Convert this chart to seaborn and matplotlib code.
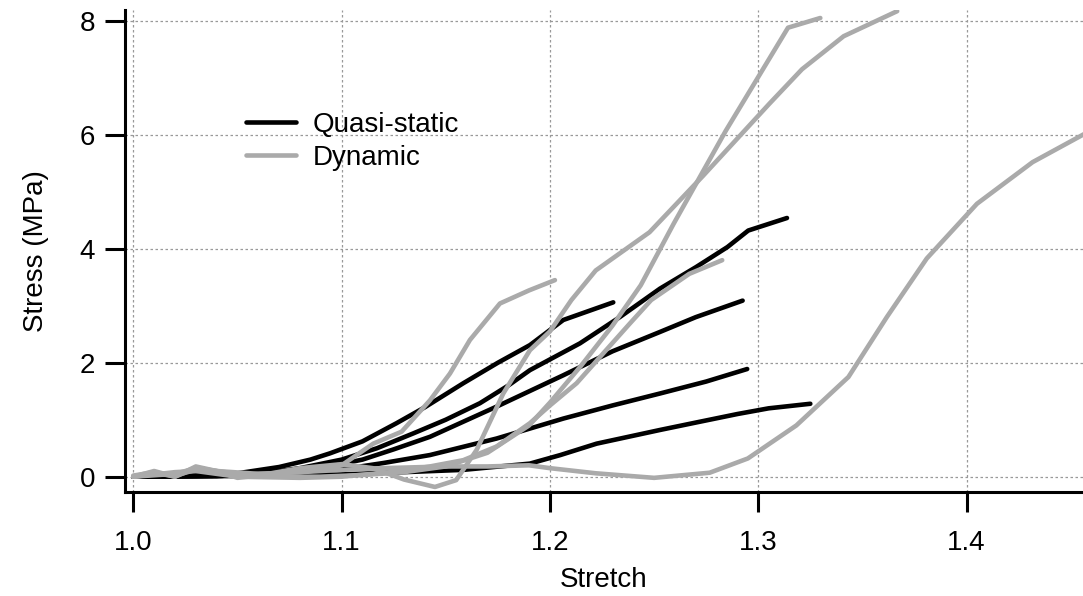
import matplotlib
matplotlib.use('Agg')
import matplotlib.pyplot as plt
import pandas as pd
import seaborn as sns


# Quasi-static tests (stretch, stress in MPa)
qs_a_x = [1.0, 1.03, 1.05, 1.07, 1.085, 1.0944, 1.11, 1.1264, 1.14, 1.1584, 1.175, 1.1904, 1.2064, 1.218, 1.2304]
qs_a_y = [0.0, 0.02, 0.06, 0.17, 0.3, 0.41, 0.62, 0.94, 1.22, 1.64, 2.0, 2.31, 2.75, 2.9, 3.06]

qs_e_x = [1.0, 1.04, 1.06, 1.08, 1.1, 1.117, 1.1344, 1.15, 1.1664, 1.18, 1.1904, 1.2144, 1.2335, 1.2528,
          1.2702, 1.2852, 1.2952, 1.3138]
qs_e_y = [0.0, 0.01, 0.05, 0.15, 0.3, 0.5, 0.76, 1.0, 1.29, 1.6, 1.87, 2.34, 2.8, 3.3,
          3.68, 4.03, 4.32, 4.54]

qs_b_x = [1.0, 1.05, 1.07, 1.09, 1.11, 1.125, 1.1424, 1.1744, 1.2064, 1.23, 1.2528, 1.27, 1.2925]
qs_b_y = [0.0, 0.02, 0.07, 0.15, 0.3, 0.48, 0.7, 1.23, 1.78, 2.2, 2.54, 2.8, 3.09]

qs_c_x = [1.0, 1.06, 1.08, 1.1, 1.12, 1.1424, 1.1744, 1.2064, 1.23, 1.2528, 1.275, 1.2947]
qs_c_y = [0.0, 0.03, 0.07, 0.13, 0.24, 0.38, 0.67, 1.02, 1.25, 1.46, 1.67, 1.89]

qs_d_x = [1.0, 1.08, 1.1, 1.13, 1.1584, 1.1904, 1.205, 1.2224, 1.2528, 1.27, 1.29, 1.305, 1.325]
qs_d_y = [0.0, 0.02, 0.04, 0.08, 0.12, 0.23, 0.38, 0.58, 0.82, 0.95, 1.1, 1.2, 1.28]

# Dynamic tests
dyn_1_x = [1.0, 1.01, 1.02, 1.03, 1.04, 1.05, 1.06, 1.07, 1.08, 1.09, 1.1, 1.1152, 1.1288, 1.1424,
           1.152, 1.1616, 1.176, 1.19, 1.2024]
dyn_1_y = [0.0, 0.05, 0.02, 0.12, 0.08, 0.03, 0.05, 0.06, 0.08, 0.12, 0.2, 0.58, 0.79, 1.34,
           1.81, 2.4, 3.04, 3.27, 3.45]

dyn_2_x = [1.0, 1.01, 1.02, 1.03, 1.04, 1.05, 1.06, 1.08, 1.1, 1.115, 1.13, 1.1448, 1.155, 1.1648,
           1.1776, 1.1904, 1.2, 1.2103, 1.222, 1.2478, 1.2735, 1.3052, 1.321, 1.341, 1.3667]
dyn_2_y = [0.02, 0.08, 0.0, 0.18, 0.1, -0.02, 0.02, 0.15, 0.22, 0.15, -0.05, -0.18, -0.06, 0.47,
           1.46, 2.22, 2.55, 3.1, 3.62, 4.29, 5.28, 6.54, 7.15, 7.73, 8.17]

dyn_3_x = [1.0, 1.02, 1.03, 1.05, 1.07, 1.09, 1.11, 1.13, 1.15, 1.17, 1.19, 1.2, 1.215, 1.23,
           1.2436, 1.2594, 1.2844, 1.3143, 1.3298]
dyn_3_y = [0.0, 0.05, 0.15, 0.05, 0.0, 0.0, 0.03, 0.08, 0.18, 0.42, 0.9, 1.3, 1.95, 2.65,
           3.36, 4.44, 6.07, 7.88, 8.05]

dyn_4_x = [1.0, 1.02, 1.03, 1.05, 1.08, 1.1, 1.1264, 1.1424, 1.1584, 1.1744, 1.1904, 1.2, 1.2128,
           1.2384, 1.2486, 1.2669, 1.2827]
dyn_4_y = [0.0, 0.08, 0.1, 0.0, -0.02, 0.0, 0.09, 0.18, 0.29, 0.53, 0.94, 1.25, 1.64,
           2.69, 3.1, 3.56, 3.8]

dyn_5_x = [1.0, 1.01, 1.02, 1.03, 1.04, 1.06, 1.08, 1.1, 1.12, 1.15, 1.17, 1.19, 1.2, 1.222, 1.25,
           1.2767, 1.295, 1.3183, 1.3433, 1.3617, 1.3809, 1.405, 1.4317, 1.4563]
dyn_5_y = [0.0, 0.1, 0.0, 0.15, 0.1, 0.05, 0.08, 0.12, 0.15, 0.18, 0.18, 0.2, 0.15, 0.06, -0.02,
           0.07, 0.32, 0.9, 1.75, 2.8, 3.83, 4.79, 5.52, 6.01]

quasi_static = [(qs_a_x, qs_a_y), (qs_e_x, qs_e_y), (qs_b_x, qs_b_y), (qs_c_x, qs_c_y), (qs_d_x, qs_d_y)]
dynamic = [(dyn_1_x, dyn_1_y), (dyn_2_x, dyn_2_y), (dyn_3_x, dyn_3_y), (dyn_4_x, dyn_4_y), (dyn_5_x, dyn_5_y)]


# Build one long table for seaborn
def build_frame():
    rows = []
    for cond, tests in [('Quasi-static', quasi_static), ('Dynamic', dynamic)]:
        for i, (xs, ys) in enumerate(tests):
            for k, (x, y) in enumerate(zip(xs, ys)):
                rows.append({'Condition': cond, 'Test': f'{cond}-{i}', 'Order': k,
                             'Stretch': x, 'Stress': y})
    return pd.DataFrame(rows)


def main():
    df = build_frame()

    sns.set_style('ticks')
    plt.rcParams['font.family'] = ['Liberation Sans', 'DejaVu Sans']
    plt.rcParams['font.size'] = 20
    plt.rcParams['text.color'] = 'black'
    plt.rcParams['axes.labelcolor'] = 'black'

    fig = plt.figure(figsize=(10.83, 5.96), dpi=100)
    ax = fig.add_axes([0.1154, 0.1753, 0.8846, 0.8079])

    sns.lineplot(data=df, x='Stretch', y='Stress', hue='Condition', units='Test',
                 estimator=None, sort=False, ax=ax,
                 palette={'Quasi-static': 'black', 'Dynamic': '#aaaaaa'},
                 linewidth=3.3, solid_capstyle='round')

    ax.set_xlim(0.996, 1.4559)
    ax.set_ylim(-0.26, 8.19)
    ax.set_xticks([1.0, 1.1, 1.2, 1.3, 1.4])
    ax.set_xticklabels(['1.0', '1.1', '1.2', '1.3', '1.4'])
    ax.set_yticks([0, 2, 4, 6, 8])

    ax.grid(True, color='#999999', linestyle=(0, (2, 2)), linewidth=0.9)
    ax.set_axisbelow(True)

    sns.despine(ax=ax)
    for side in ['left', 'bottom']:
        ax.spines[side].set_linewidth(2.2)
        ax.spines[side].set_color('black')

    ax.tick_params(axis='both', direction='out', length=14.5, width=2.2, colors='black',
                   labelcolor='black', labelsize=20)
    ax.tick_params(axis='x', pad=13)
    ax.tick_params(axis='y', pad=7)

    ax.set_xlabel('Stretch', fontsize=20, labelpad=8, color='black')
    ax.set_ylabel('Stress (MPa)', fontsize=20, labelpad=22, color='black')

    handles, labels = ax.get_legend_handles_labels()
    leg = ax.legend(handles, labels, loc='upper left', bbox_to_anchor=(0.1, 0.84),
                    frameon=False, fontsize=20, handlelength=1.8, handletextpad=0.6,
                    labelspacing=0.25)
    for t in leg.get_texts():
        t.set_color('black')

    fig.savefig('out.png', dpi=100)


if __name__ == '__main__':
    main()
